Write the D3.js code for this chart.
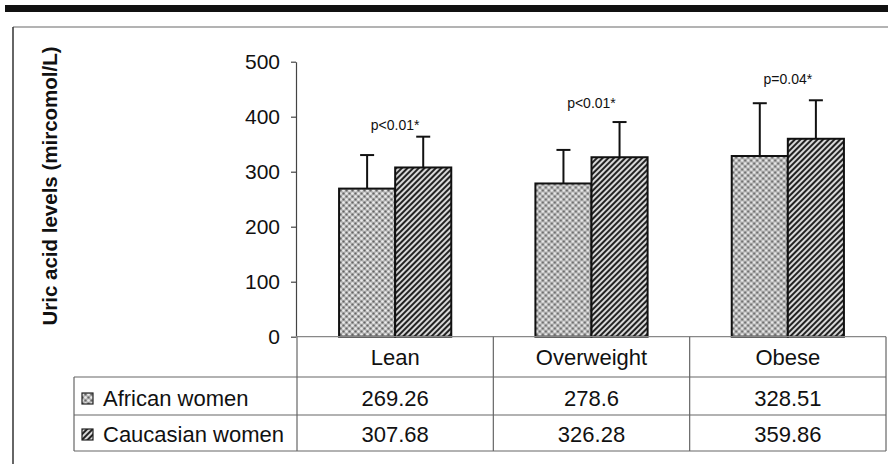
<!DOCTYPE html>
<html>
<head>
<meta charset="utf-8">
<script src="https://cdn.jsdelivr.net/npm/d3@7"></script>
<style>
  body { margin: 0; background: #fff; }
  text { font-family: Arial, "Liberation Sans", sans-serif; fill: #111; }
</style>
</head>
<body>
<div id="svg_container"></div>
<script>
var width = 888,
    height = 464;

// chart values
var categories = ['Lean', 'Overweight', 'Obese'];
var series = ['African women', 'Caucasian women'];
var african = [269.26, 278.6, 328.51];
var caucasian = [307.68, 326.28, 359.86];
var africanSD = [61, 61, 96];
var caucasianSD = [56, 64, 70];
var pLabels = ['p<0.01*', 'p<0.01*', 'p=0.04*'];
var pLabelAt = [376, 416, 459];
var yTicks = [0, 100, 200, 300, 400, 500];
var yTitle = 'Uric acid levels (mircomol/L)';

var values = [african, caucasian],
    sds = [africanSD, caucasianSD],
    fills = ['url(#dots)', 'url(#stripes)'];

// plot area
var plotLeft = 296, plotRight = 886, plotTop = 61.7, plotBottom = 336.7;

var x = d3.scaleBand().domain(categories).range([plotLeft + 1, plotRight]).padding(0);
var xSub = d3.scaleBand().domain(series).range([0, x.bandwidth()]).paddingInner(0).paddingOuter(0.75);
var y = d3.scaleLinear().domain([0, 500]).range([plotBottom, plotTop]);

var svg = d3.select('#svg_container').append('svg')
    .attr('width', width)
    .attr('height', height);

var defs = svg.append('defs');

// grey dotted texture
var dots = defs.append('pattern')
    .attr('id', 'dots')
    .attr('patternUnits', 'userSpaceOnUse')
    .attr('width', 6).attr('height', 6);
dots.append('rect').attr('width', 6).attr('height', 6).attr('fill', '#b0b0b0');
dots.append('circle').attr('cx', 1.5).attr('cy', 1.5).attr('r', 1.3).attr('fill', '#ececec');
dots.append('circle').attr('cx', 4.5).attr('cy', 4.5).attr('r', 1.3).attr('fill', '#ececec');
dots.append('circle').attr('cx', 4.5).attr('cy', 1.5).attr('r', 1.1).attr('fill', '#666');
dots.append('circle').attr('cx', 1.5).attr('cy', 4.5).attr('r', 1.1).attr('fill', '#666');

// diagonal hatching
var stripes = defs.append('pattern')
    .attr('id', 'stripes')
    .attr('patternUnits', 'userSpaceOnUse')
    .attr('width', 4).attr('height', 4)
    .attr('patternTransform', 'rotate(45)');
stripes.append('rect').attr('width', 4).attr('height', 4).attr('fill', '#d8d8d8');
stripes.append('line').attr('x1', 1).attr('x2', 1).attr('y1', 0).attr('y2', 4)
    .attr('stroke', '#222').attr('stroke-width', 2);

// page frame
svg.append('rect').attr('x', 5).attr('y', 5).attr('width', 883).attr('height', 7).attr('fill', '#111');
svg.append('line').attr('x1', 13).attr('x2', 888).attr('y1', 27).attr('y2', 27)
    .attr('stroke', '#9a9a9a').attr('stroke-width', 1.5);
svg.append('line').attr('x1', 13).attr('x2', 13).attr('y1', 27).attr('y2', height)
    .attr('stroke', '#333').attr('stroke-width', 1.5);

// y axis
var yAxis = svg.append('g')
    .attr('transform', 'translate(' + plotLeft + ',0)')
    .call(d3.axisLeft(y).tickValues(yTicks).tickSize(5).tickSizeOuter(0).tickPadding(11));
yAxis.select('.domain').attr('stroke', '#444').attr('stroke-width', 1.2);
yAxis.selectAll('.tick line').attr('stroke', '#444').attr('stroke-width', 1.2);
yAxis.selectAll('.tick text')
    .style('font-family', 'Arial, "Liberation Sans", sans-serif')
    .style('font-size', '21px')
    .attr('fill', '#111');

svg.append('text')
    .attr('transform', 'translate(50,186) rotate(-90)')
    .attr('text-anchor', 'middle')
    .attr('dy', '0.35em')
    .style('font-size', '20.5px')
    .style('font-weight', 'bold')
    .text(yTitle);

// bars
var groups = svg.selectAll('g.cat').data(categories)
  .enter().append('g')
    .attr('class', 'cat')
    .attr('transform', function (d) { return 'translate(' + x(d) + ',0)'; });

groups.selectAll('rect').data(function (d, i) {
        return series.map(function (s, j) { return {s: s, v: values[j][i], sd: sds[j][i], f: fills[j]}; });
    })
  .enter().append('rect')
    .attr('x', function (d) { return xSub(d.s); })
    .attr('y', function (d) { return y(d.v); })
    .attr('width', xSub.bandwidth())
    .attr('height', function (d) { return y(0) - y(d.v); })
    .attr('fill', function (d) { return d.f; })
    .attr('stroke', '#111')
    .attr('stroke-width', 2);

// error bars (upper half only)
var errs = groups.selectAll('g.err').data(function (d, i) {
        return series.map(function (s, j) { return {s: s, v: values[j][i], sd: sds[j][i]}; });
    })
  .enter().append('g').attr('class', 'err');
errs.append('line')
    .attr('x1', function (d) { return xSub(d.s) + xSub.bandwidth() / 2; })
    .attr('x2', function (d) { return xSub(d.s) + xSub.bandwidth() / 2; })
    .attr('y1', function (d) { return y(d.v); })
    .attr('y2', function (d) { return y(d.v + d.sd); })
    .attr('stroke', '#111').attr('stroke-width', 2);
errs.append('line')
    .attr('x1', function (d) { return xSub(d.s) + xSub.bandwidth() / 2 - 7; })
    .attr('x2', function (d) { return xSub(d.s) + xSub.bandwidth() / 2 + 7; })
    .attr('y1', function (d) { return y(d.v + d.sd); })
    .attr('y2', function (d) { return y(d.v + d.sd); })
    .attr('stroke', '#111').attr('stroke-width', 2);

// p values
groups.append('text')
    .attr('x', x.bandwidth() / 2)
    .attr('y', function (d, i) { return y(pLabelAt[i]); })
    .attr('text-anchor', 'middle')
    .style('font-size', '14px')
    .text(function (d, i) { return pLabels[i]; });

// data table under the chart
var tableLeft = 74,
    rowY = [plotBottom, 377, 415, 451];

var grid = svg.append('g').attr('stroke', '#666').attr('stroke-width', 1.2);
grid.append('line').attr('x1', plotLeft).attr('x2', plotRight).attr('y1', plotBottom).attr('y2', plotBottom).attr('stroke', '#888');
rowY.slice(1).forEach(function (ry) {
    grid.append('line').attr('x1', tableLeft).attr('x2', plotRight).attr('y1', ry).attr('y2', ry);
});
grid.append('line').attr('x1', tableLeft).attr('x2', tableLeft).attr('y1', rowY[1]).attr('y2', rowY[3]);
categories.forEach(function (c) {
    grid.append('line').attr('x1', x(c)).attr('x2', x(c)).attr('y1', plotBottom).attr('y2', rowY[3]);
});
grid.append('line').attr('x1', plotRight).attr('x2', plotRight).attr('y1', plotBottom).attr('y2', rowY[3]);

svg.selectAll('text.cat-label').data(categories)
  .enter().append('text')
    .attr('class', 'cat-label')
    .attr('x', function (d) { return x(d) + x.bandwidth() / 2; })
    .attr('y', 365)
    .attr('text-anchor', 'middle')
    .style('font-size', '22px')
    .text(function (d) { return d; });

var rowBase = [406, 442];
series.forEach(function (s, j) {
    svg.append('rect')
        .attr('x', 82).attr('y', rowBase[j] - 13)
        .attr('width', 11).attr('height', 11)
        .attr('fill', fills[j])
        .attr('stroke', '#222').attr('stroke-width', 1.2);
    svg.append('text')
        .attr('x', 103).attr('y', rowBase[j])
        .style('font-size', '22px')
        .text(s);
    svg.selectAll('text.v' + j).data(values[j])
      .enter().append('text')
        .attr('class', 'v' + j)
        .attr('x', function (d, i) { return x(categories[i]) + x.bandwidth() / 2; })
        .attr('y', rowBase[j])
        .attr('text-anchor', 'middle')
        .style('font-size', '22px')
        .text(function (d) { return d; });
});
</script>
</body>
</html>
